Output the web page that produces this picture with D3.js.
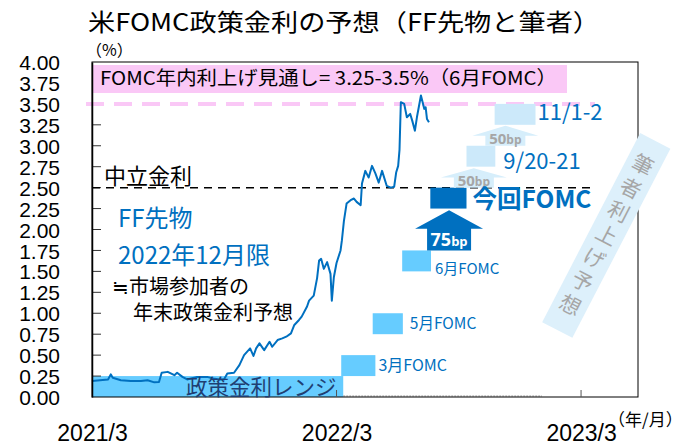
<!DOCTYPE html>
<html><head><meta charset="utf-8">
<script src="https://cdn.jsdelivr.net/npm/d3@7"></script>
<style>
html,body{margin:0;padding:0;background:#fff;}
svg{display:block;}
</style></head>
<body>
<div id="chart"></div>
<script>
// ---------- data ----------
const lineDates = ["2021-03-01","2021-03-13","2021-03-25","2021-03-29","2021-04-01","2021-04-13","2021-04-28","2021-05-13","2021-05-23","2021-06-02","2021-06-09","2021-06-13","2021-06-22","2021-07-02","2021-07-06","2021-07-14","2021-07-21","2021-08-05","2021-08-20","2021-08-29","2021-09-07","2021-09-14","2021-09-19","2021-09-29","2021-10-07","2021-10-14","2021-10-23","2021-10-28","2021-11-01","2021-11-06","2021-11-13","2021-11-21","2021-11-25","2021-12-03","2021-12-10","2021-12-16","2021-12-23","2021-12-28","2022-01-04","2022-01-08","2022-01-16","2022-01-19","2022-01-26","2022-01-31","2022-02-03","2022-02-06","2022-02-10","2022-02-15","2022-02-20","2022-02-22","2022-02-25","2022-03-01","2022-03-07","2022-03-09","2022-03-12","2022-03-16","2022-03-22","2022-03-27","2022-03-31","2022-04-06","2022-04-08","2022-04-13","2022-04-18","2022-04-23","2022-04-28","2022-05-03","2022-05-08","2022-05-15","2022-05-21","2022-05-26","2022-05-29","2022-06-01","2022-06-03","2022-06-05","2022-06-10","2022-06-14","2022-06-19","2022-06-22","2022-06-26","2022-06-29","2022-07-05","2022-07-10","2022-07-12","2022-07-14","2022-07-17"];
const lineValues = [0.19,0.20,0.21,0.27,0.23,0.20,0.19,0.19,0.20,0.175,0.18,0.29,0.30,0.26,0.29,0.24,0.21,0.24,0.24,0.22,0.21,0.21,0.28,0.29,0.38,0.50,0.58,0.49,0.58,0.64,0.56,0.66,0.60,0.68,0.70,0.72,0.76,0.86,0.92,0.96,1.08,1.15,1.21,1.42,1.63,1.65,1.53,1.61,1.47,1.15,1.43,1.60,1.75,1.87,2.10,2.31,2.35,2.37,2.33,2.29,2.55,2.70,2.62,2.76,2.67,2.56,2.70,2.52,2.50,2.51,2.68,2.76,2.95,3.52,3.50,3.34,3.38,3.30,3.18,3.34,3.60,3.44,3.46,3.32,3.28];

const yTickValues = [0,0.25,0.5,0.75,1,1.25,1.5,1.75,2,2.25,2.5,2.75,3,3.25,3.5,3.75,4];
const xTickDates = ["2021-03-01","2022-03-01","2023-03-01"];
const xTickLabels = ["2021/3","2022/3","2023/3"];

// policy rate range band
const bandStart = "2021-03-01", bandEnd = "2022-03-11", bandLo = 0, bandHi = 0.25;
const bandLabel = "政策金利レンジ";

// FOMC expected-rate boxes
const boxLabels = ["3月FOMC","5月FOMC","6月FOMC","今回FOMC","9/20-21","11/1-2"];
const boxStart  = ["2022-03-08","2022-04-24","2022-06-07","2022-07-19","2022-09-11","2022-10-23"];
const boxEnd    = ["2022-04-28","2022-06-08","2022-07-20","2022-09-11","2022-10-24","2022-12-23"];
const boxLo     = [0.25,0.75,1.5,2.25,2.75,3.25];
const boxHi     = [0.5,1.0,1.75,2.5,3.0,3.5];
const boxKind   = ["past","past","past","now","fcst","fcst"];

// hike arrows
const arrowLabels = ["75","50","50"];
const arrowDates  = ["2022-08-16","2022-09-22","2022-11-08"];
const arrowFrom   = [1.75,2.5,3.0];
const arrowBase   = [2.01,2.62,3.12];
const arrowTo     = [2.23,2.73,3.24];
const arrowKind   = ["now","fcst","fcst"];

const neutralRate = 2.5, neutralLabel = "中立金利";
const fomcOutlook = 3.5, outlookLabel = "FOMC年内利上げ見通し= 3.25-3.5%（6月FOMC）";
const titleText = "米FOMC政策金利の予想（FF先物と筆者）";
const futuresLabel = ["FF先物","2022年12月限"];
const futuresNote = ["≒市場参加者の","年末政策金利予想"];
const authorLabel = "筆者利上げ予想";

// ---------- drawing ----------
const W = 689, H = 446;
const jp = "'Noto Sans CJK JP','Noto Sans',sans-serif";
const num = "'Liberation Sans',Arial,sans-serif";
const cBlue = "#0070C0", cLight = "#66CCFF", cPale = "#CCE9FA", cGray = "#A6A6A6";

const svg = d3.select("#chart").append("svg").attr("width", W).attr("height", H);
const parse = d3.utcParse("%Y-%m-%d");

const x = d3.scaleUtc().domain([parse("2021-03-01"), parse("2023-05-25")]).range([92, 638]);
const y = d3.scaleLinear().domain([0, 4]).range([397, 62]);

// title
svg.append("text").attr("x", 88).attr("y", 31)
  .attr("font-family", jp).attr("font-size", 24).attr("fill","#000")
  .attr("textLength", 512).attr("lengthAdjust","spacingAndGlyphs").text(titleText);

// policy band
svg.append("rect").attr("x", x(parse(bandStart))).attr("y", y(bandHi))
  .attr("width", x(parse(bandEnd)) - x(parse(bandStart))).attr("height", y(bandLo) - y(bandHi))
  .attr("fill", cLight);

// dotted gray baseline segment
svg.append("line").attr("x1", x(parse(bandEnd))).attr("x2", 542).attr("y1", y(0)-1).attr("y2", y(0)-1)
  .attr("stroke","#999").attr("stroke-width",1).attr("stroke-dasharray","2,1");

// inner y ticks (under the legend box)
yTickValues.filter(v => v > 0 && v < 4).forEach(v => {
  svg.append("line").attr("x1", 92).attr("x2", 101).attr("y1", y(v)).attr("y2", y(v))
    .attr("stroke","#333").attr("stroke-width",1);
});

// pink legend box
svg.append("rect").attr("x", 93).attr("y", 65).attr("width", 474).attr("height", 28).attr("fill", "#FAC8F6");
svg.append("text").attr("x", 100).attr("y", 85).attr("font-family", jp).attr("font-size", 19)
  .attr("textLength", 457).attr("lengthAdjust","spacingAndGlyphs")
  .attr("fill","#000").text(outlookLabel);

// pink dashed line at outlook
svg.append("line").attr("x1", 86).attr("x2", 595).attr("y1", y(fomcOutlook)).attr("y2", y(fomcOutlook))
  .attr("stroke","#FAC8F6").attr("stroke-width",4).attr("stroke-dasharray","18,10");

// neutral dashed
svg.append("line").attr("x1", 92).attr("x2", 595).attr("y1", y(neutralRate)).attr("y2", y(neutralRate))
  .attr("stroke","#000").attr("stroke-width",1.5).attr("stroke-dasharray","8,6");

// boxes
const boxFill = {past: cLight, now: cBlue, fcst: cPale};
boxLabels.forEach((lab, i) => {
  svg.append("rect").attr("x", x(parse(boxStart[i]))).attr("y", y(boxHi[i]))
    .attr("width", x(parse(boxEnd[i])) - x(parse(boxStart[i])))
    .attr("height", y(boxLo[i]) - y(boxHi[i])).attr("fill", boxFill[boxKind[i]]);
});

// arrows
arrowLabels.forEach((lab, i) => {
  const cx = x(parse(arrowDates[i]));
  const big = arrowKind[i] === "now";
  const sw = big ? 22 : 20, hw = big ? 34 : 33;
  const y0 = y(arrowFrom[i]), yb = y(arrowBase[i]), yt = y(arrowTo[i]);
  const p = d3.path();
  p.moveTo(cx - sw, y0); p.lineTo(cx - sw, yb); p.lineTo(cx - hw, yb); p.lineTo(cx, yt);
  p.lineTo(cx + hw, yb); p.lineTo(cx + sw, yb); p.lineTo(cx + sw, y0); p.closePath();
  svg.append("path").attr("d", p.toString()).attr("fill", big ? cBlue : "#D6EEFB");
  const t = svg.append("text").attr("x", cx).attr("y", y0 - (big ? 4 : 2)).attr("text-anchor","middle")
    .attr("font-family", "'Open Sans','Noto Sans',sans-serif").attr("font-weight","bold")
    .attr("fill", big ? "#fff" : cGray);
  t.append("tspan").attr("font-size", big ? 18 : 15).text(lab);
  t.append("tspan").attr("font-size", big ? 13 : 12).text("bp");
});

// data line
const pts = lineDates.map((d, i) => [parse(d), lineValues[i]]);
svg.append("path").datum(pts)
  .attr("d", d3.line().x(d => x(d[0])).y(d => y(d[1])))
  .attr("fill","none").attr("stroke", cBlue).attr("stroke-width", 2).attr("stroke-linejoin","round");

// frame
svg.append("rect").attr("x", 92).attr("y", y(4)).attr("width", 638-92).attr("height", y(0)-y(4))
  .attr("fill","none").attr("stroke","#000").attr("stroke-width",1);

// y axis
const yAxis = d3.axisLeft(y).tickValues(yTickValues).tickSize(0).tickFormat(d3.format(".2f"));
const gy = svg.append("g").attr("transform","translate(92,0)").call(yAxis);
gy.select(".domain").attr("stroke","#000").attr("stroke-width",1.5);
gy.selectAll("text").attr("x", -32).attr("font-family", num).attr("font-size", 21).attr("fill","#000")
  .attr("dy","0.36em");

// x axis labels
const xAxis = d3.axisBottom(x).tickValues(xTickDates.map(parse)).tickSize(0)
  .tickFormat((d, i) => xTickLabels[i]);
const gx = svg.append("g").attr("transform", `translate(0,${y(0)})`).call(xAxis);
gx.select(".domain").remove();
gx.selectAll("text").attr("y", 44).attr("dy", 0).attr("font-family", num).attr("font-size", 23).attr("fill","#000");
xTickDates.slice(1).forEach(d => {
  svg.append("line").attr("x1", x(parse(d))).attr("x2", x(parse(d))).attr("y1", y(0)).attr("y2", y(0)-7)
    .attr("stroke","#555");
});

svg.append("text").attr("x", 86).attr("y", 56).attr("font-family", jp).attr("font-size", 16).text("（%）").attr("fill","#000");
svg.append("text").attr("x", 608).attr("y", 426).attr("font-family", jp).attr("font-size", 17).text("（年/月）").attr("fill","#000");

// neutral label
svg.append("text").attr("x", 104).attr("y", 184).attr("font-family", jp).attr("font-size", 22).attr("fill","#000").text(neutralLabel);

// futures labels
futuresLabel.forEach((t, i) => {
  svg.append("text").attr("x", 118).attr("y", 227 + i*37).attr("font-family", jp).attr("font-size", 24)
    .attr("fill", cBlue).text(t);
});
futuresNote.forEach((t, i) => {
  svg.append("text").attr("x", 112 + i*21).attr("y", 294 + i*26).attr("font-family", jp).attr("font-size", 20)
    .attr("fill", "#000").text(t);
});

// band label
svg.append("text").attr("x", 186).attr("y", 395).attr("font-family", jp).attr("font-size", 21.5)
  .attr("fill", "#1F3F73").text(bandLabel);

// box labels
const labelPos = [
  {dx: 3, size: 16, weight: "normal"},
  {dx: 7, size: 15.5, weight: "normal"},
  {dx: 4, size: 15, weight: "normal"},
  {dx: 6, size: 24.5, weight: "bold"},
  {dx: 8, size: 22, weight: "normal"},
  {dx: 2, size: 22, weight: "normal"}
];
boxLabels.forEach((lab, i) => {
  const lp = labelPos[i];
  const xm = x(parse(boxEnd[i])) + lp.dx;
  let yy = (y(boxLo[i]) + y(boxHi[i])) / 2 + (i >= 4 ? -2 : 0);
  if (i === 0) yy = y(boxLo[i]) - 11;
  if (i === 2) yy = y(boxLo[i]) - 3;
  if (i === 3) yy += 1;
  if (i === 4) yy = y(2.75) - 6;
  svg.append("text").attr("x", xm).attr("y", yy).attr("dy","0.36em")
    .attr("font-family", jp).attr("font-size", lp.size).attr("font-weight", lp.weight)
    .attr("fill", cBlue).text(lab);
});

// author diagonal band
const gb = svg.append("g").attr("transform", "translate(606.5,235) rotate(27.4)");
gb.append("rect").attr("x", -17).attr("y", -106).attr("width", 34).attr("height", 213).attr("fill", "#DDF0FB");
Array.from(authorLabel).forEach((ch, i) => {
  gb.append("text").attr("x", 0).attr("y", (i - 3) * 26.3).attr("dy","0.36em").attr("text-anchor","middle")
    .attr("font-family", jp).attr("font-size", 21).attr("fill", cGray).text(ch);
});
</script>
</body></html>
